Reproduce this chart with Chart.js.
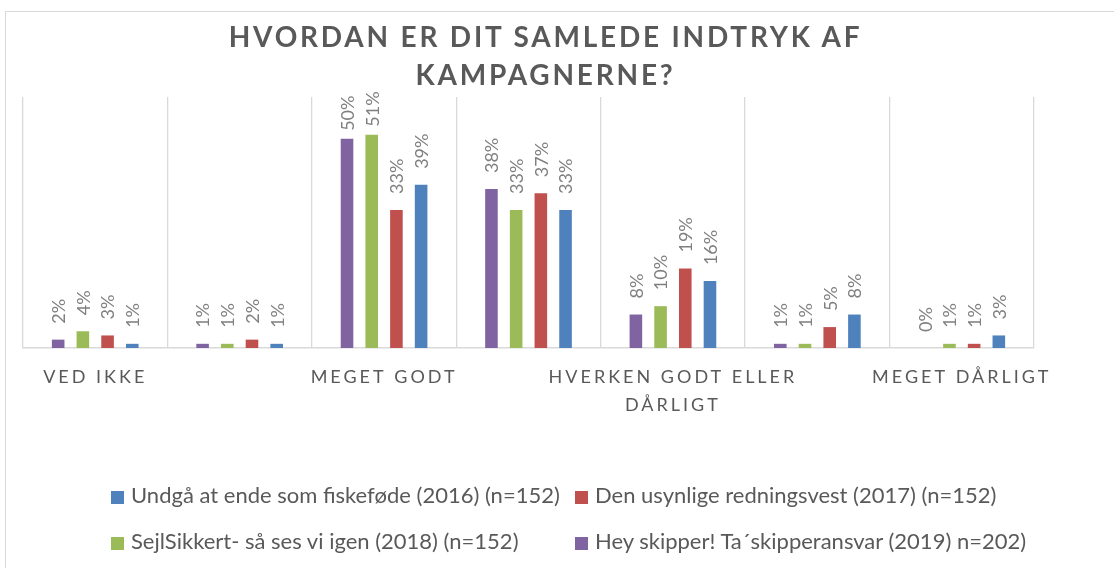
<!DOCTYPE html>
<html lang="da">
<head>
<meta charset="utf-8">
<title>Hvordan er dit samlede indtryk af kampagnerne?</title>
<script src="https://cdn.jsdelivr.net/npm/chart.js@4.4.1/dist/chart.umd.min.js"></script>
<style>
  html, body { margin: 0; padding: 0; background: #fff; }
  #wrap { position: relative; width: 1114px; height: 568px; overflow: hidden; font-family: Lato, sans-serif; }
  #frame { position: absolute; left: 5px; top: 11px; width: 1200px; height: 700px; border: 1.5px solid #d9d9d9; }
  #title {
    position: absolute; left: 0; top: 17px; width: 1091px;
    text-align: center; font-weight: 700; font-size: 28px; line-height: 38px;
    letter-spacing: 2.8px; color: #595959;
  }
  #chart { position: absolute; left: 0; top: 0; }
  .legend-item { position: absolute; height: 46px; line-height: 46px; font-size: 22px; color: #595959; white-space: nowrap; }
  .legend-item span.box { position: absolute; left: 0; top: 18.5px; width: 13px; height: 13px; }
  .legend-item span.txt { position: absolute; left: 20px; top: 0; }
</style>
</head>
<body>
<div id="wrap">
  <div id="frame"></div>
  <canvas id="chart" width="1114" height="568"></canvas>
  <div id="title">HVORDAN ER DIT SAMLEDE INDTRYK AF<br>KAMPAGNERNE?</div>
  <div id="legend"></div>
</div>
<script>
// Svarkategorier (kun hver anden vises på aksen)
const categories = ['VED IKKE', '', 'MEGET GODT', '', ['HVERKEN GODT ELLER', 'DÅRLIGT'], '', 'MEGET DÅRLIGT'];

// Andel svar i procent pr. kampagne
const heySkipper2019 = [2, 1, 50, 38, 8, 1, 0];
const sejlSikkert2018 = [4, 1, 51, 33, 10, 1, 1];
const redningsvest2017 = [3, 2, 33, 37, 19, 5, 1];
const fiskefoede2016 = [1, 1, 39, 33, 16, 8, 3];

const seriesNames = [
  'Hey skipper! Ta´skipperansvar (2019) n=202)',
  'SejlSikkert- så ses vi igen (2018) (n=152)',
  'Den usynlige redningsvest (2017) (n=152)',
  'Undgå at ende som fiskeføde (2016) (n=152)'
];
const seriesColors = ['#8064A2', '#9BBB59', '#C0504D', '#4F81BD'];
const seriesData = [heySkipper2019, sejlSikkert2018, redningsvest2017, fiskefoede2016];

// Legend order: 2016, 2017 / 2018, 2019
const legendOrder = [3, 2, 1, 0];

const FONT = 'Lato, sans-serif';

// Rotated value labels above each bar + spaced category labels under the axis
const barLabels = {
  id: 'barLabels',
  afterDatasetsDraw(chart) {
    const ctx = chart.ctx;
    const area = chart.chartArea;
    ctx.save();
    ctx.font = '18px ' + FONT;
    ctx.fillStyle = '#7f7f7f';
    ctx.textAlign = 'left';
    ctx.textBaseline = 'middle';
    chart.data.datasets.forEach((ds, di) => {
      chart.getDatasetMeta(di).data.forEach((bar, i) => {
        const txt = ds.data[i] + '%';
        const w = ctx.measureText(txt).width;
        let gap = 16;
        if (bar.y - gap - w < area.top) gap = 8;
        ctx.save();
        ctx.translate(bar.x + 1, bar.y - gap);
        ctx.rotate(-Math.PI / 2);
        ctx.fillText(txt, 0, 0);
        ctx.restore();
      });
    });
    ctx.restore();
  },
  afterDraw(chart) {
    const ctx = chart.ctx;
    const xs = chart.scales.x;
    const base = chart.chartArea.bottom;
    ctx.save();
    ctx.font = '18px ' + FONT;
    ctx.fillStyle = '#595959';
    ctx.textAlign = 'center';
    ctx.textBaseline = 'alphabetic';
    ctx.letterSpacing = '3px';
    categories.forEach((lab, i) => {
      const lines = Array.isArray(lab) ? lab : [lab];
      const x = xs.getPixelForValue(i);
      lines.forEach((line, li) => {
        if (line) ctx.fillText(line, x, base + 35 + li * 28);
      });
    });
    ctx.restore();
  }
};

const ctx = document.getElementById('chart');
new Chart(ctx, {
  type: 'bar',
  data: {
    labels: categories,
    datasets: seriesData.map((d, i) => ({
      label: seriesNames[i],
      data: d,
      backgroundColor: seriesColors[i],
      borderWidth: 0,
      categoryPercentage: 0.684,
      barPercentage: 0.51
    }))
  },
  options: {
    responsive: false,
    animation: false,
    layout: { padding: { left: 23, right: 80, top: 97, bottom: 220 } },
    plugins: {
      legend: { display: false },
      tooltip: { enabled: false }
    },
    scales: {
      x: {
        offset: true,
        grid: { offset: true, color: '#d9d9d9', lineWidth: 1.3, drawTicks: false },
        border: { color: '#d9d9d9', width: 1.5 },
        ticks: { display: false }
      },
      y: {
        display: false,
        min: 0,
        max: 60
      }
    }
  },
  plugins: [barLabels]
});

// Two-column legend under the chart
const legendEl = document.getElementById('legend');
const colLeft = [111, 575];
const rowTop = [472, 518];
legendOrder.forEach((si, k) => {
  const item = document.createElement('div');
  item.className = 'legend-item';
  item.style.left = colLeft[k % 2] + 'px';
  item.style.top = rowTop[Math.floor(k / 2)] + 'px';
  const box = document.createElement('span');
  box.className = 'box';
  box.style.background = seriesColors[si];
  const txt = document.createElement('span');
  txt.className = 'txt';
  txt.textContent = seriesNames[si];
  item.appendChild(box);
  item.appendChild(txt);
  legendEl.appendChild(item);
});
</script>
</body>
</html>
